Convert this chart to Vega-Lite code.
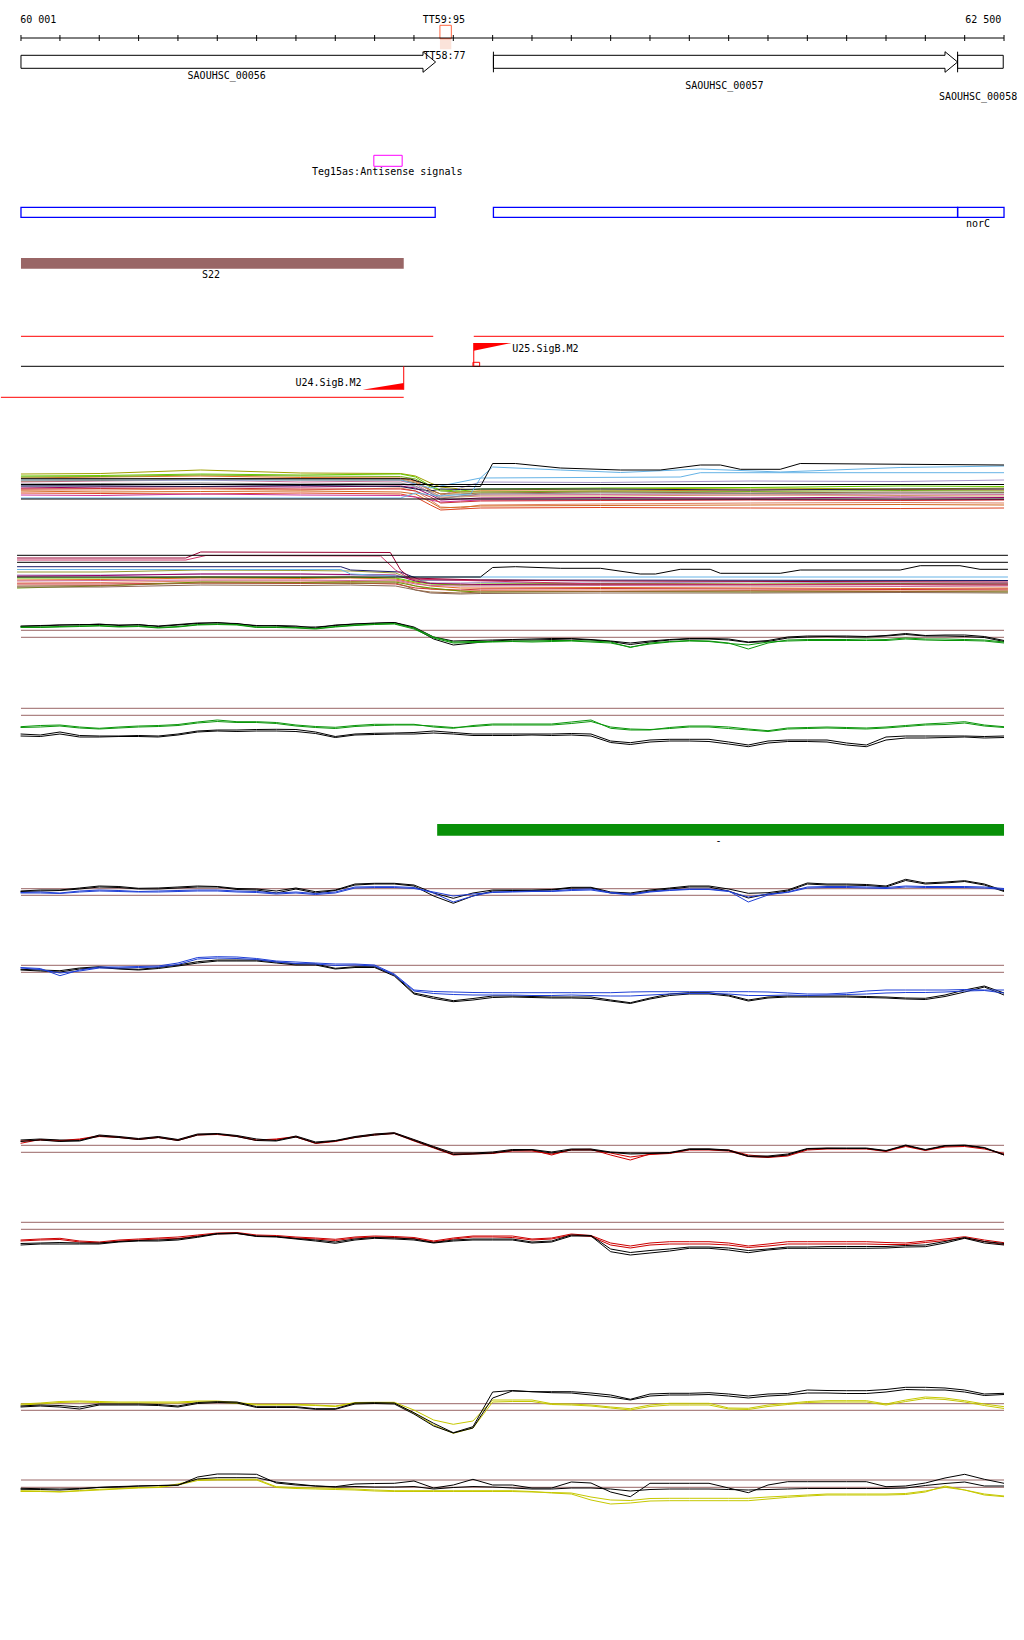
{
"$schema": "https://vega.github.io/schema/vega-lite/v6.json",
"width": 1024, "height": 1640,
"autosize": {"type": "fit", "contains": "padding"},
"padding": 0,
"background": "white",
"config": {"view": {"stroke": null}},
"datasets": {
"fill_s22": [{"feature": "S22", "pos": 60001, "pos2": 60974, "v": 258, "v2": 268.7}],
"fill_green": [{"feature": "green", "pos": 61059, "pos2": 62500, "v": 824, "v2": 835.7}],
"fill_peach": [{"feature": "TT59:95 shade", "pos": 61066, "pos2": 61095, "v": 38.7, "v2": 49.3}],
"box_orange": [{"feature": "TT59:95", "pos": 61066, "pos2": 61095, "v": 25.3, "v2": 38.7}],
"box_magenta": [{"feature": "Teg15as", "pos": 60898, "pos2": 60970, "v": 155.3, "v2": 166.3}],
"box_blue": [{"feature": "b1", "pos": 60001, "pos2": 61054, "v": 207.3, "v2": 217.3}, {"feature": "b2", "pos": 61202, "pos2": 62382, "v": 207.3, "v2": 217.3}, {"feature": "norC", "pos": 62382, "pos2": 62500, "v": 207.3, "v2": 217.3}],
"box_red": [{"feature": "U25 start", "pos": 61150, "pos2": 61167, "v": 362.3, "v2": 366.3}],
"box_black": [{"feature": "SAOUHSC_00058", "pos": 62382, "pos2": 62498, "v": 55.3, "v2": 68.3}],
"genes": [
{"gene": "SAOUHSC_00056", "i": 1, "pos": 60001, "v": 55.3}, {"gene": "SAOUHSC_00056", "i": 2, "pos": 61023, "v": 55.3}, {"gene": "SAOUHSC_00056", "i": 3, "pos": 61023, "v": 51.7}, {"gene": "SAOUHSC_00056", "i": 4, "pos": 61055, "v": 62}, {"gene": "SAOUHSC_00056", "i": 5, "pos": 61023, "v": 72.3}, {"gene": "SAOUHSC_00056", "i": 6, "pos": 61023, "v": 68.3}, {"gene": "SAOUHSC_00056", "i": 7, "pos": 60001, "v": 68.3}, {"gene": "SAOUHSC_00056", "i": 8, "pos": 60001, "v": 55.3},
{"gene": "SAOUHSC_00057", "i": 1, "pos": 61202, "v": 55.3}, {"gene": "SAOUHSC_00057", "i": 2, "pos": 62350, "v": 55.3}, {"gene": "SAOUHSC_00057", "i": 3, "pos": 62350, "v": 51.7}, {"gene": "SAOUHSC_00057", "i": 4, "pos": 62382, "v": 62}, {"gene": "SAOUHSC_00057", "i": 5, "pos": 62350, "v": 72.3}, {"gene": "SAOUHSC_00057", "i": 6, "pos": 62350, "v": 68.3}, {"gene": "SAOUHSC_00057", "i": 7, "pos": 61202, "v": 68.3}, {"gene": "SAOUHSC_00057", "i": 8, "pos": 61202, "v": 55.3}
],
"hrules_black": [{"track": "ruler", "pos": 60001, "pos2": 62500, "v": 38}, {"track": "SigB", "pos": 60001, "pos2": 62500, "v": 366.3}],
"hrules_red": [{"track": "SigB+", "pos": 60001, "pos2": 61049, "v": 336.3}, {"track": "SigB+", "pos": 61152, "pos2": 62500, "v": 336.3}, {"track": "SigB-", "pos": 59950, "pos2": 60974, "v": 397.3}],
"hrules_brown": [
{"pos": 60001, "pos2": 62500, "v": 630.3}, {"pos": 60001, "pos2": 62500, "v": 637.3},
{"pos": 60001, "pos2": 62500, "v": 708.3}, {"pos": 60001, "pos2": 62500, "v": 715.3},
{"pos": 60001, "pos2": 62500, "v": 888.7}, {"pos": 60001, "pos2": 62500, "v": 895.3},
{"pos": 60001, "pos2": 62500, "v": 965.3}, {"pos": 60001, "pos2": 62500, "v": 972.3},
{"pos": 60001, "pos2": 62500, "v": 1145.3}, {"pos": 60001, "pos2": 62500, "v": 1152.3},
{"pos": 60001, "pos2": 62500, "v": 1222.3}, {"pos": 60001, "pos2": 62500, "v": 1229.3},
{"pos": 60001, "pos2": 62500, "v": 1403.7}, {"pos": 60001, "pos2": 62500, "v": 1410.3},
{"pos": 60001, "pos2": 62500, "v": 1480}, {"pos": 60001, "pos2": 62500, "v": 1487.3}
],
"vrules_black": [
{"pos": 60001, "v": 35, "v2": 41}, {"pos": 60100, "v": 35, "v2": 41}, {"pos": 60200, "v": 35, "v2": 41}, {"pos": 60300, "v": 35, "v2": 41}, {"pos": 60400, "v": 35, "v2": 41}, {"pos": 60500, "v": 35, "v2": 41}, {"pos": 60600, "v": 35, "v2": 41}, {"pos": 60700, "v": 35, "v2": 41}, {"pos": 60800, "v": 35, "v2": 41}, {"pos": 60900, "v": 35, "v2": 41}, {"pos": 61000, "v": 35, "v2": 41}, {"pos": 61100, "v": 35, "v2": 41}, {"pos": 61200, "v": 35, "v2": 41}, {"pos": 61300, "v": 35, "v2": 41}, {"pos": 61400, "v": 35, "v2": 41}, {"pos": 61500, "v": 35, "v2": 41}, {"pos": 61600, "v": 35, "v2": 41}, {"pos": 61700, "v": 35, "v2": 41}, {"pos": 61800, "v": 35, "v2": 41}, {"pos": 61900, "v": 35, "v2": 41}, {"pos": 62000, "v": 35, "v2": 41}, {"pos": 62100, "v": 35, "v2": 41}, {"pos": 62200, "v": 35, "v2": 41}, {"pos": 62300, "v": 35, "v2": 41}, {"pos": 62400, "v": 35, "v2": 41}, {"pos": 62500, "v": 35, "v2": 41},
{"pos": 61202, "v": 51.7, "v2": 72.3}, {"pos": 62382, "v": 51.7, "v2": 72.3}
],
"vrules_red": [{"site": "U24.SigB.M2", "pos": 60974, "v": 366.3, "v2": 389.7}, {"site": "U25.SigB.M2", "pos": 61152, "v": 343, "v2": 366.3}],
"sigb": [
{"site": "U24.SigB.M2", "pos": 60869, "v": 389.7, "v2": 389.7}, {"site": "U24.SigB.M2", "pos": 60974, "v": 383, "v2": 389.7},
{"site": "U25.SigB.M2", "pos": 61152, "v": 343, "v2": 350.7}, {"site": "U25.SigB.M2", "pos": 61248, "v": 343, "v2": 343}
],
"labels_left": [{"label": "60 001", "pos": 59999, "v": 20}, {"label": "TT58:77", "pos": 61024, "v": 56}, {"label": "U25.SigB.M2", "pos": 61250, "v": 349.3}],
"labels_center": [{"label": "TT59:95", "pos": 61076, "v": 20}, {"label": "SAOUHSC_00056", "pos": 60524, "v": 76}, {"label": "SAOUHSC_00057", "pos": 61789, "v": 86}, {"label": "SAOUHSC_00058", "pos": 62434, "v": 97.3}, {"label": "Teg15as:Antisense signals", "pos": 60932, "v": 172.3}, {"label": "norC", "pos": 62434, "v": 224.3}, {"label": "S22", "pos": 60484, "v": 275}, {"label": "-", "pos": 61774, "v": 841}],
"labels_right": [{"label": "62 500", "pos": 62493, "v": 20}, {"label": "U24.SigB.M2", "pos": 60867, "v": 383.3}],
"grid": [{"k":1,"pos":60000},{"k":2,"pos":60050},{"k":3,"pos":60100},{"k":4,"pos":60150},{"k":5,"pos":60200},{"k":6,"pos":60250},{"k":7,"pos":60300},{"k":8,"pos":60350},{"k":9,"pos":60400},{"k":10,"pos":60450},{"k":11,"pos":60500},{"k":12,"pos":60550},{"k":13,"pos":60600},{"k":14,"pos":60650},{"k":15,"pos":60700},{"k":16,"pos":60750},{"k":17,"pos":60800},{"k":18,"pos":60850},{"k":19,"pos":60900},{"k":20,"pos":60950},{"k":21,"pos":61000},{"k":22,"pos":61050},{"k":23,"pos":61100},{"k":24,"pos":61150},{"k":25,"pos":61200},{"k":26,"pos":61250},{"k":27,"pos":61300},{"k":28,"pos":61350},{"k":29,"pos":61400},{"k":30,"pos":61450},{"k":31,"pos":61500},{"k":32,"pos":61550},{"k":33,"pos":61600},{"k":34,"pos":61650},{"k":35,"pos":61700},{"k":36,"pos":61750},{"k":37,"pos":61800},{"k":38,"pos":61850},{"k":39,"pos":61900},{"k":40,"pos":61950},{"k":41,"pos":62000},{"k":42,"pos":62050},{"k":43,"pos":62100},{"k":44,"pos":62150},{"k":45,"pos":62200},{"k":46,"pos":62250},{"k":47,"pos":62300},{"k":48,"pos":62350},{"k":49,"pos":62400},{"k":50,"pos":62450},{"k":51,"pos":62500}],
"signals": [
{"sid":"C1","grp":"ctrl","v":[626,625.5,625,624.5,624.5,625,625,626,624.5,623,623,623.5,626,625.5,626,628,625,624,623.5,622.5,627,637,641,640.5,640,639.5,639,638.5,638.5,639.5,641,643,641,639.5,638.5,638.5,639,642,640.5,637,636,636,636,636.5,635.5,633.5,635.5,635,635,636.5,640.5]},
{"sid":"C2","grp":"ctrl","v":[626.5,626,625,625,624,625.5,624.5,626.5,625,623.5,622.5,624,625.5,626,627,627,625.5,624,623,622.5,628,639,645,643,641,640,640,639.5,639,640,641.5,644.5,642,640,639,639,640,642.5,641.5,638,637,636.5,637,637,636,634.5,636,636,636.5,637.5,641.5]},
{"sid":"C3","grp":"trtCD","v":[627,627,626.5,626,625.5,626.5,626,627.5,626.5,624.5,624,624.5,627,627,627.5,628.5,626.5,625,624,623.5,628,637,642,641.5,641.5,641,641,640.5,640.5,641,642,647.5,643,641.5,640.5,641,643,649,643,640,639.5,639.5,639.5,639,639.5,638,639,639,639.5,640,642]},
{"sid":"C4","grp":"trtCD","v":[627.5,627.5,627,626.5,626,627,626.5,628,627,625,624.5,625,627.5,627.5,628,629,627,625.5,624.5,624,629,638,643,642.5,642,641.5,642,641.5,641,642,643,647,644,642,641,641.5,643.5,645,642,641,640.5,640.5,640.5,640.5,640.5,639,640,640.5,640.5,641,643]},
{"sid":"D1","grp":"ctrl","v":[734,735,732,735.5,736,736,735.5,736,734,731,730,730,729.5,729.3,729.5,732,736.5,734,733.3,733,732.5,731,732.5,734,734,734,734,734,733.5,734,741,742.7,740,739.3,739.3,739.3,742,745,741,740,740,740,743,745,737,736,736,736,736,736.5,736]},
{"sid":"D2","grp":"ctrl","v":[736,736.5,734,737,737,736.5,736.5,737,735,732,731,731.5,731,731,731.5,733.5,737.5,735,734.5,734,734,733,734,735.5,735.5,735.5,735,735.5,735,736,742.5,744.5,742,741,741,741.5,744,746.7,743,741.5,741.5,742,745,746.7,740,738,738,737.5,737,738,737.5]},
{"sid":"D3","grp":"trtCD","v":[726.7,725.5,725,727,728.3,727,726,725.5,724.5,722,720,721.7,721.7,722.5,725,726.5,727.3,725.5,724.3,724.3,724.3,727,728.3,725.5,724,724,724,724,722,720,728.3,730,730,727.5,726,726,727,729,730.7,728,727.5,727,727.5,728,727,725.5,724,723,721.7,725,726.7]},
{"sid":"D4","grp":"trtCD","v":[727.5,727,726,728,729,728,727,726.5,725.5,723,721.5,722.5,722.5,723.5,726,727.5,728.5,726.5,725.5,725,725,726,727.5,726.5,725,725,725,725,723.5,721.5,727,729,729.5,728.5,727,727,728.5,730,731.5,729,728.5,728,728.5,729,728,726.5,725,724.5,723,726,727.5]},
{"sid":"E1","grp":"ctrl","v":[891,890,890,888,886,886.5,888.3,888,887,886,886.5,888.5,889,891,888,891.7,890,884,883.3,883.3,885,893,898.3,893,890,890,890,889.5,887.3,887.3,892,893,890,888,886,886,889,893.3,892.7,890,883,884,884,884.5,886,879.3,883,882,880.7,884,890.7]},
{"sid":"E2","grp":"ctrl","v":[891.5,891,890.5,889,887,887.5,889,889,888,887,887,889.5,890,893,889,893,890.5,885,884,884,886,896,903.3,896,891,890.5,890.5,890,888,888,893,894,891,889,887,887,891,898,894,891,884,885,885,885.5,887,880.5,884,883,881.5,885,891.5]},
{"sid":"E3","grp":"trtEF","v":[892.5,892,893,891,890,890.5,891.5,891,890.5,890,890,891,891.5,893,892,893.5,892,887,886.7,886.7,887.5,893,902,896,892,891.5,891,891,889.5,889,892.5,894,891.5,890,889,889,891,902,895,892,887,886.5,886.5,887,887.5,886,886.5,886.5,886.5,887,888.5]},
{"sid":"E4","grp":"trtEF","v":[893,893,893.5,892,891,891.5,892,892,891.5,891,891,892,892.5,894,893,894.5,893,888,887.5,887.5,888.5,892,896,894,892.5,892,891.5,891.5,890.5,890,893,895,892,890.5,889.5,889.5,891.5,897,894,892.5,888,887.5,887.5,888,888.5,887,887.5,887.5,887.5,888,889.5]},
{"sid":"F1","grp":"ctrl","v":[969.3,970,970.7,968,966.7,968.5,969.3,967.5,965,961.7,960,960,960,962,964,964,968.3,966.7,966.7,975,993,997,1000.7,998.5,996,996,996.5,997,997,997,1000,1002.7,998,994,992.7,992.7,995,1000,997,996,996,996,996,996.5,997,998,998.3,995,990,986,993]},
{"sid":"F2","grp":"ctrl","v":[970,971,972,969,967.5,969,970,968.5,966,963,961,961,961,963,965,965,969,967.5,967.5,976,994,998.5,1001.7,1000,997.5,997,997.5,998,998,998.5,1001,1003.5,999,995.5,994,994,996,1001,998,997,997,997,997,997.5,998,999,999.5,996.5,992,987,995]},
{"sid":"F3","grp":"trtEF","v":[967.5,968.5,975.7,970,967,967,966.5,966,963,957.5,956.7,957,958.5,961,962,963,964,964,965,974,990,991.5,992,992.5,992.7,992.7,992.7,992.7,992.7,992.7,992.7,992,991.7,991.7,991.7,991.7,991.7,991.7,992,993,994,994,993,991,990,990,990,990,989.5,990,990]},
{"sid":"F4","grp":"trtEF","v":[968,969.5,973,971,968,968,967.5,967,964.5,959,958,958.5,959.5,962,963.5,964,965.5,965,966,975,991,993.5,994.5,995,995,995,995.5,995.5,995,995.5,996,996,995,994,993.5,993.5,994,995.5,995.5,995,995.5,995,994.5,994,993,992.5,992.5,992,991,990.5,993]},
{"sid":"G1","grp":"trtGH","v":[1143.3,1139.5,1140.5,1139,1135.7,1137,1139,1137,1140,1134.5,1134,1136,1140,1139,1136.5,1143,1141,1137,1134.3,1133,1140,1147,1154,1153.5,1153,1150,1150,1155,1149.5,1149.3,1155,1160,1154,1153,1149.3,1149.3,1150,1155,1156.7,1155,1149,1148.3,1148.5,1148.5,1151,1145.7,1150,1146,1145.5,1148,1155]},
{"sid":"G2","grp":"trtGH","v":[1141,1140,1141,1139.5,1136.5,1137.5,1139.5,1137.5,1140.5,1135,1134.5,1136.5,1140.5,1139.5,1137,1143.5,1141.5,1137.5,1135,1133.5,1141,1148,1155,1154,1153.5,1151,1151,1154,1150,1150,1153,1157,1154.5,1153.5,1150,1150,1151,1156.5,1157.5,1156,1150,1149,1149,1149,1151.5,1146.5,1150.5,1147,1146.5,1149,1153.5]},
{"sid":"G3","grp":"ctrl","v":[1140,1139,1140,1140.5,1135,1136.5,1138.5,1136.5,1139.5,1134,1133.5,1135.5,1139,1140.5,1136,1142,1140.5,1136.5,1134,1132.7,1139.5,1146.5,1153,1153,1152,1149.5,1149.5,1152,1149,1149,1152,1153,1153,1152.5,1148.8,1148.8,1150,1156,1156,1154,1148.5,1148,1148,1148,1150.5,1145,1149.5,1145.5,1145,1147.5,1154.5]},
{"sid":"G4","grp":"ctrl","v":[1141.5,1140,1141.5,1141,1136,1137.5,1139.5,1137.5,1140.5,1135,1134,1136.5,1140.5,1141,1137,1143,1141,1137.5,1135,1133.5,1140.5,1147.5,1154.5,1154,1153,1150.5,1150,1153,1150,1150,1152.5,1154,1153.5,1153,1149.5,1149.5,1150.5,1156.5,1157,1155,1149,1148.5,1148.5,1148.5,1151,1145.5,1150,1146,1145.5,1148,1155]},
{"sid":"H1","grp":"trtGH","v":[1240,1239,1238.3,1241,1242,1240,1239,1238,1237,1235,1233,1232.5,1235,1235.5,1237,1238,1239.3,1237,1236,1236.5,1237.5,1241,1238,1236,1236,1236,1239,1238,1234,1235.5,1243,1246,1243,1241.7,1241.7,1241.7,1243,1246,1244,1241.7,1241.7,1241.7,1241.7,1241.7,1242.5,1243,1241,1239,1236.7,1240,1242.7]},
{"sid":"H2","grp":"trtGH","v":[1241,1240,1239.5,1242,1243,1241,1240,1239,1238.5,1236,1234,1233.5,1236,1236.5,1238,1239,1240.5,1238,1237,1237.5,1238.5,1242,1239,1237,1237,1237.5,1240,1239,1235,1236.5,1245,1248,1245,1244,1244,1244,1245,1247.5,1246,1244,1244,1244,1244,1244,1244.5,1244.5,1242.5,1240.5,1238,1241.5,1244.5]},
{"sid":"H3","grp":"ctrl","v":[1245,1244,1244,1244,1244,1242,1241,1241,1240,1237.3,1234,1233.5,1236.5,1237,1239,1241,1243.3,1240,1238.3,1239,1240,1243,1241,1240,1240,1240,1243,1242,1236,1236,1251.7,1255,1253,1251,1248.3,1248.3,1250,1252.7,1250,1248.3,1248.3,1248.3,1248.3,1248.3,1248,1247,1246.7,1243,1238.3,1243,1245]},
{"sid":"H4","grp":"ctrl","v":[1243.5,1243,1242.5,1243,1243,1241.5,1240.5,1240,1239,1236.5,1233.5,1233,1236,1236.5,1238.5,1240,1242,1239,1237.5,1238,1239,1242.5,1240,1239,1239,1239,1242,1241,1235,1235.5,1249,1252.5,1250.5,1249,1247,1247,1248,1250.5,1249,1247,1247,1246.5,1246.5,1246.5,1246.5,1245.5,1245,1241.5,1237.5,1241.5,1243.5]},
{"sid":"I3","grp":"trtIJ","v":[1404,1403,1401.5,1401,1401.5,1402,1402,1402,1402,1401,1401,1402.5,1404.3,1404.3,1404.3,1405,1406,1402.5,1402.3,1402.3,1410,1420,1424.3,1421,1400,1400,1400,1403.7,1404,1405,1407,1408.7,1405,1403.3,1403.3,1403.3,1408,1408.3,1405,1403.3,1401.5,1400.7,1400.7,1400.7,1404,1400,1397,1398,1400.7,1404,1406.7]},
{"sid":"I4","grp":"trtIJ","v":[1405,1404,1402.5,1402,1402.5,1403,1403,1403,1403,1402,1402,1403.5,1405,1405,1405,1405.5,1406.5,1403.5,1403,1403,1413,1425,1433.3,1428,1402,1401.5,1401.5,1404.5,1405,1406,1408,1410,1406.5,1405,1405,1405,1409,1409.5,1406.5,1404.5,1402.5,1402,1402,1402,1405,1401.5,1398.5,1399.5,1402,1405.5,1408.5]},
{"sid":"I1","grp":"ctrl","v":[1406,1405,1405.5,1407,1404,1404,1404,1404.5,1406,1402.5,1401.7,1402,1406.7,1406.7,1406.7,1408.7,1408.7,1403,1402.7,1403,1412.7,1423.3,1432.7,1426.7,1392,1390.5,1391.7,1391.7,1391.7,1393,1395,1399.3,1394,1393.3,1393.3,1392.7,1394,1396,1394,1393.5,1390,1390.5,1390.7,1390.7,1389.5,1387.3,1387.3,1388,1390,1394,1393.3]},
{"sid":"I2","grp":"ctrl","v":[1407,1406,1407,1409,1405,1405,1405,1405.5,1407,1403.5,1402.5,1403,1407.5,1407.5,1407.5,1409.3,1409.3,1404,1403.5,1404,1414,1426,1433,1428,1398,1391,1391.7,1392.7,1393,1395,1397,1400,1396,1395,1395,1394.5,1396,1398,1396,1395,1393,1393,1393.5,1393.5,1392,1389.5,1390,1390,1392,1395.5,1394.5]},
{"sid":"J3","grp":"trtIJ","v":[1490.7,1491,1491.7,1490.5,1489.3,1488.5,1487.5,1487,1484,1479.3,1479.3,1479.3,1479.3,1486.7,1487.5,1488,1488.3,1489,1490,1490.7,1490.7,1490.7,1490.7,1490.7,1490.7,1490.7,1491.5,1493,1494,1500,1504,1503,1501,1500.7,1500.7,1500.7,1500.7,1500.7,1499,1497.3,1496,1495,1495,1495,1495,1494.5,1492,1486,1490,1495,1496.7]},
{"sid":"J4","grp":"trtIJ","v":[1491.5,1491.5,1492,1491,1490,1489,1488,1487.5,1485,1480.5,1480,1480,1480,1487.5,1488.5,1489,1489.5,1490,1491,1491.5,1491.5,1491.5,1491.5,1491.5,1491.5,1491.5,1492,1492.5,1493,1497,1500,1500.5,1498.5,1498.3,1498.3,1498.3,1498.3,1498.3,1497,1496,1495,1494,1494,1494,1494,1493.5,1491,1487.3,1490,1494,1496]},
{"sid":"J1","grp":"ctrl","v":[1489.3,1489.5,1490,1489,1487.3,1486.5,1486,1485.5,1485.3,1477,1474,1474,1474.3,1483,1485,1486,1486.7,1484,1483.5,1483.3,1481,1488,1485,1479.3,1485,1485,1488,1488,1482,1483,1492,1496.7,1483.3,1483.3,1483.3,1483.3,1488,1492.7,1485,1481.7,1481.7,1481.7,1481.7,1481.7,1486.7,1486,1483,1478,1474.3,1479.3,1483.3]},
{"sid":"J2","grp":"ctrl","v":[1488.3,1488.7,1489,1488.5,1487.5,1487,1486,1485.5,1485,1479,1477.7,1477.7,1477.7,1482,1484,1486,1487,1486.5,1487,1487,1486.5,1489,1487.5,1486.5,1487,1488,1489,1489,1488,1488,1489,1491,1489.5,1489,1489,1489,1489.5,1490,1489.5,1489,1488.5,1488.5,1488.5,1488.5,1488.5,1488,1485.5,1483.5,1482,1486,1486]}
],
"spaghetti": [
{"sid":"A06","pos":[60001,60204,60458,60712,60966,61004,61042,61068,61118,61169,61474,61855,62236,62500],"v":[474,473.5,470,473,473.5,476,483,487,489,490,489,488,489,488]},
{"sid":"A07","pos":[60001,60204,60458,60712,60966,61004,61042,61068,61118,61169,61474,61855,62236,62500],"v":[476,475.5,474,475,474,477,486,490,491,489,488,487.5,486,486.5]},
{"sid":"A08","pos":[60001,60204,60458,60712,60966,61004,61042,61068,61118,61169,61474,61855,62236,62500],"v":[478,477,476,477.5,478,481,490,494,492,491,491,490,489.5,490]},
{"sid":"A09","pos":[60001,60204,60458,60712,60966,61004,61042,61068,61118,61169,61474,61855,62236,62500],"v":[482,481,480,482,481,484,493,498,496,495,494.5,495,494,494.5]},
{"sid":"A10","pos":[60001,60204,60458,60712,60966,61004,61042,61068,61118,61169,61474,61855,62236,62500],"v":[488,487,486.5,487,486,488,495,500,499,498,497.5,498,497,497.5]},
{"sid":"A11","pos":[60001,60204,60458,60712,60966,61004,61042,61068,61118,61169,61474,61855,62236,62500],"v":[490,490,489,490,488,491,500,507,508,505,504,503,502.5,503]},
{"sid":"A12","pos":[60001,60204,60458,60712,60966,61004,61042,61068,61118,61169,61474,61855,62236,62500],"v":[486,485,484,485.5,484,487,492,496,488,482,482.5,481,481.5,480]},
{"sid":"A13","pos":[60001,60204,60458,60712,60966,61004,61042,61068,61118,61169,61474,61855,62236,62500],"v":[481,480.5,479,480,480,483,490,494,494,493,492,493,492,492.5]},
{"sid":"A14","pos":[60001,60204,60458,60712,60966,61004,61042,61068,61118,61169,61474,61855,62236,62500],"v":[493,493.5,494,493,494,497,505,510,509,508,507.5,508,508.5,508]},
{"sid":"A15","pos":[60001,60204,60458,60712,60966,61004,61042,61068,61118,61169,61474,61855,62236,62500],"v":[486,486,486.5,485.5,486.5,489,491,489,489.5,489,489,490,489,489]},
{"sid":"A16","pos":[60001,60204,60458,60712,60966,61004,61042,61068,61118,61169,61474,61855,62236,62500],"v":[495,495.5,494,495,495.5,497,500,502,501,500,500,499.5,500,499.5]},
{"sid":"A17","pos":[60001,60204,60458,60712,60966,61004,61042,61068,61118,61169,61474,61855,62236,62500],"v":[480,479.5,478.5,479,479,482,491,497,497,496,496,495,495.5,496]},
{"sid":"A18","pos":[60001,60204,60458,60712,60966,61004,61042,61068,61118,61169,61474,61855,62236,62500],"v":[491,492,491.5,491,492,494,502,508,507,506,505.5,505,504.5,505]},
{"sid":"A19","pos":[60001,60204,60458,60712,60966,61004,61042,61068,61118,61169,61474,61855,62236,62500],"v":[477,476.5,475,476,476.5,479,487,491,492,492,491,491.5,490.5,491]},
{"sid":"A20","pos":[60001,60204,60458,60712,60966,61004,61042,61068,61118,61169,61474,61855,62236,62500],"v":[484,483.5,483,484,483,486,493,499,496,494,493,493.5,493,493]},
{"sid":"A21","pos":[60001,60204,60458,60712,60966,61004,61042,61068,61118,61169,61474,61855,62236,62500],"v":[489,488.5,488,489,489,491,497,503,502,501,500.5,500,500.5,500]},
{"sid":"A04","pos":[60001,60966,61004,61068,61144,61169,61200,61372,61525,61728,61931,62236,62500],"v":[498,498,493,496,494,478,467,470,472.5,469,472,467.5,466]},
{"sid":"A05","pos":[60001,60966,61042,61169,61677,61728,62500],"v":[480,480,488,478,477,472.7,472.7]},
{"sid":"A01","pos":[60001,62500],"v":[499,499]},
{"sid":"A03","pos":[60001,62500],"v":[484.5,484.5]},
{"sid":"A02","pos":[60001,60966,60991,61050,61169,61200,61258,61372,61525,61626,61728,61779,61830,61931,61982,62500],"v":[478.7,478.7,479,486.5,486.5,463.5,463.5,468,470,470,465,465,469.3,469.3,463.5,465]},
{"sid":"B08","pos":[59991,60204,60458,60712,60839,60953,60979,61004,61042,61118,61169,61474,61855,62236,62510],"v":[572,572,570,570.5,571,573,577,580,583,585,585,584.5,585,584.5,585]},
{"sid":"B09","pos":[59991,60204,60458,60712,60839,60953,60979,61004,61042,61118,61169,61474,61855,62236,62510],"v":[575,575,574,574,575,576,578,581,583,583,582.5,583,582,583,583]},
{"sid":"B10","pos":[59991,60204,60458,60712,60839,60953,60979,61004,61042,61118,61169,61474,61855,62236,62510],"v":[580,579.5,578,578.5,578,579,581,583,586,588,588,587.5,588,588.5,588]},
{"sid":"B11","pos":[59991,60204,60458,60712,60839,60953,60979,61004,61042,61118,61169,61474,61855,62236,62510],"v":[578,578,577,577.5,577,578,580,582,584,585,584,583.5,584,583.5,584]},
{"sid":"B12","pos":[59991,60204,60458,60712,60839,60953,60979,61004,61042,61118,61169,61474,61855,62236,62510],"v":[583,582.5,581,581,581.5,581,583,586,589,591,590.5,590,590.5,590,590]},
{"sid":"B13","pos":[59991,60204,60458,60712,60839,60953,60979,61004,61042,61118,61169,61474,61855,62236,62510],"v":[584,584,583,583.5,583,584,586,588,589,590,589,588.5,589,589.5,589]},
{"sid":"B14","pos":[59991,60204,60458,60712,60839,60953,60979,61004,61042,61118,61169,61474,61855,62236,62510],"v":[588,586,582,582.5,582,582,584,586,588,591,592,591.5,592,591.5,592]},
{"sid":"B15","pos":[59991,60204,60458,60712,60839,60953,60979,61004,61042,61118,61169,61474,61855,62236,62510],"v":[586,585.5,583,583,583.5,583,586,590,592,593,592,591.5,591,591.5,591]},
{"sid":"B16","pos":[59991,60204,60458,60712,60839,60953,60979,61004,61042,61118,61169,61474,61855,62236,62510],"v":[581,580.5,580,580,580.5,580,582,584,585.5,586,586,585.5,586,586.5,586]},
{"sid":"B17","pos":[59991,60204,60458,60712,60839,60953,60979,61004,61042,61118,61169,61474,61855,62236,62510],"v":[587,587,585,585.5,585,586,588,590,593,594,593.5,593,593,592.5,593]},
{"sid":"B18","pos":[59991,60204,60458,60712,60839,60953,60979,61004,61042,61118,61169,61474,61855,62236,62510],"v":[576,575.5,574,574,574.5,575,578,581,583.5,584,584.5,584,584.5,584,584]},
{"sid":"B07","pos":[59991,60814,60839,61017,62510],"v":[569.5,569.5,574,577,577]},
{"sid":"B06","pos":[59991,60814,60839,60966,61017,62510],"v":[566.7,566.7,570,572,580,580.5]},
{"sid":"B05","pos":[59991,60420,60471,60915,60953,60991,61474,62510],"v":[560,560,555.5,556,570,579,584,585]},
{"sid":"B04","pos":[59991,60420,60458,60940,60966,60991,61169,61474,62510],"v":[558,558,552,552.5,570,578,580,581,582]},
{"sid":"B01","pos":[59991,62510],"v":[555.3,555.3]},
{"sid":"B02","pos":[59991,62510],"v":[562.3,562.3]},
{"sid":"B03","pos":[59991,60953,61169,61200,61258,61372,61474,61575,61614,61677,61753,61779,61931,61982,62236,62287,62388,62439,62510],"v":[577,577,577,567.5,566.7,568.3,568.3,574,574,569.3,569.3,573.3,573.3,570,570,565.7,565.7,569.3,569.3]}
]
},
"encoding": {
"x": {"field": "pos", "type": "quantitative", "scale": {"domain": [59950.2, 62550.8], "nice": false, "zero": false}, "axis": null},
"y": {"field": "v", "type": "quantitative", "scale": {"domain": [0, 1640], "reverse": true, "nice": false, "zero": false}, "axis": null}
},
"layer": [
{"data": {"name": "fill_s22"}, "mark": {"type": "rect", "color": "#996666"}, "encoding": {"x2": {"field": "pos2"}, "y2": {"field": "v2"}}},
{"data": {"name": "fill_green"}, "mark": {"type": "rect", "color": "#089008"}, "encoding": {"x2": {"field": "pos2"}, "y2": {"field": "v2"}}},
{"data": {"name": "fill_peach"}, "mark": {"type": "rect", "color": "#fbe3da"}, "encoding": {"x2": {"field": "pos2"}, "y2": {"field": "v2"}}},
{"data": {"name": "box_orange"}, "mark": {"type": "rect", "filled": false, "color": "#ff6640", "strokeWidth": 1}, "encoding": {"x2": {"field": "pos2"}, "y2": {"field": "v2"}}},
{"data": {"name": "box_magenta"}, "mark": {"type": "rect", "filled": false, "color": "#ff00ff", "strokeWidth": 1}, "encoding": {"x2": {"field": "pos2"}, "y2": {"field": "v2"}}},
{"data": {"name": "box_blue"}, "mark": {"type": "rect", "filled": false, "color": "#0000ff", "strokeWidth": 1.3}, "encoding": {"x2": {"field": "pos2"}, "y2": {"field": "v2"}}},
{"data": {"name": "box_red"}, "mark": {"type": "rect", "filled": false, "color": "#ff0000", "strokeWidth": 1}, "encoding": {"x2": {"field": "pos2"}, "y2": {"field": "v2"}}},
{"data": {"name": "box_black"}, "mark": {"type": "rect", "filled": false, "color": "#000000", "strokeWidth": 1}, "encoding": {"x2": {"field": "pos2"}, "y2": {"field": "v2"}}},
{"data": {"name": "genes"}, "mark": {"type": "line", "color": "#000000", "strokeWidth": 1}, "encoding": {"detail": {"field": "gene"}, "order": {"field": "i", "type": "quantitative"}}},
{"data": {"name": "hrules_black"}, "mark": {"type": "rule", "color": "#000000", "strokeWidth": 1}, "encoding": {"x2": {"field": "pos2"}}},
{"data": {"name": "hrules_red"}, "mark": {"type": "rule", "color": "#ff0000", "strokeWidth": 1}, "encoding": {"x2": {"field": "pos2"}}},
{"data": {"name": "hrules_brown"}, "mark": {"type": "rule", "color": "#996666", "strokeWidth": 1}, "encoding": {"x2": {"field": "pos2"}}},
{"data": {"name": "vrules_black"}, "mark": {"type": "rule", "color": "#000000", "strokeWidth": 1}, "encoding": {"y2": {"field": "v2"}}},
{"data": {"name": "vrules_red"}, "mark": {"type": "rule", "color": "#ff0000", "strokeWidth": 1}, "encoding": {"y2": {"field": "v2"}}},
{"data": {"name": "sigb"}, "mark": {"type": "area", "color": "#ff0000"}, "encoding": {"y2": {"field": "v2"}, "detail": {"field": "site"}}},
{"data": {"name": "spaghetti"}, "transform": [{"flatten": ["pos", "v"]}],
 "mark": {"type": "line", "strokeWidth": 1},
 "encoding": {"detail": {"field": "sid"}, "color": {"field": "sid", "type": "nominal", "legend": null,
  "scale": {"domain": ["A01","A02","A03","A04","A05","A06","A07","A08","A09","A10","A11","A12","A13","A14","A15","A16","A17","A18","A19","A20","A21","B01","B02","B03","B04","B05","B06","B07","B08","B09","B10","B11","B12","B13","B14","B15","B16","B17","B18","C1","C2","C3","C4","D1","D2","D3","D4","E1","E2","E3","E4","F1","F2","F3","F4","G1","G2","G3","G4","H1","H2","H3","H4","I1","I2","I3","I4","J1","J2","J3","J4"],
  "range": ["#000000","#000000","#000000","#66b3e6","#66b3e6","#a0a000","#66cc00","#e8702a","#d070a0","#990066","#e08060","#aa99cc","#996633","#dd4422","#1a1a4d","#cc3399","#cc9966","#d2691e","#77aa22","#888888","#cc3333","#000000","#000000","#000000","#990033","#cc3366","#1a1a66","#66b3e6","#999933","#aa99cc","#e07020","#66cc00","#e08060","#cc3333","#669900","#996633","#cc6699","#886655","#990066","#000000","#000000","#0a960a","#0a960a","#000000","#000000","#0a960a","#0a960a","#000000","#000000","#1f3fd6","#1f3fd6","#000000","#000000","#1f3fd6","#1f3fd6","#cc0000","#cc0000","#000000","#000000","#cc0000","#cc0000","#000000","#000000","#000000","#000000","#c6c800","#c6c800","#000000","#000000","#c6c800","#c6c800"]}}}},
{"data": {"name": "signals"}, "transform": [{"flatten": ["v"]}, {"window": [{"op": "row_number", "as": "k"}], "groupby": ["sid"]}, {"lookup": "k", "from": {"data": {"name": "grid"}, "key": "k", "fields": ["pos"]}}],
 "mark": {"type": "line", "strokeWidth": 1},
 "encoding": {"detail": {"field": "sid"}, "order": {"field": "k", "type": "quantitative"}, "color": {"field": "sid", "type": "nominal", "legend": null,
  "scale": {"domain": ["A01","A02","A03","A04","A05","A06","A07","A08","A09","A10","A11","A12","A13","A14","A15","A16","A17","A18","A19","A20","A21","B01","B02","B03","B04","B05","B06","B07","B08","B09","B10","B11","B12","B13","B14","B15","B16","B17","B18","C1","C2","C3","C4","D1","D2","D3","D4","E1","E2","E3","E4","F1","F2","F3","F4","G1","G2","G3","G4","H1","H2","H3","H4","I1","I2","I3","I4","J1","J2","J3","J4"],
  "range": ["#000000","#000000","#000000","#66b3e6","#66b3e6","#a0a000","#66cc00","#e8702a","#d070a0","#990066","#e08060","#aa99cc","#996633","#dd4422","#1a1a4d","#cc3399","#cc9966","#d2691e","#77aa22","#888888","#cc3333","#000000","#000000","#000000","#990033","#cc3366","#1a1a66","#66b3e6","#999933","#aa99cc","#e07020","#66cc00","#e08060","#cc3333","#669900","#996633","#cc6699","#886655","#990066","#000000","#000000","#0a960a","#0a960a","#000000","#000000","#0a960a","#0a960a","#000000","#000000","#1f3fd6","#1f3fd6","#000000","#000000","#1f3fd6","#1f3fd6","#cc0000","#cc0000","#000000","#000000","#cc0000","#cc0000","#000000","#000000","#000000","#000000","#c6c800","#c6c800","#000000","#000000","#c6c800","#c6c800"]}}}},
{"data": {"name": "labels_left"}, "mark": {"type": "text", "align": "left", "baseline": "middle", "font": "DejaVu Sans Mono", "fontSize": 10, "color": "#000000"}, "encoding": {"text": {"field": "label"}}},
{"data": {"name": "labels_center"}, "mark": {"type": "text", "align": "center", "baseline": "middle", "font": "DejaVu Sans Mono", "fontSize": 10, "color": "#000000"}, "encoding": {"text": {"field": "label"}}},
{"data": {"name": "labels_right"}, "mark": {"type": "text", "align": "right", "baseline": "middle", "font": "DejaVu Sans Mono", "fontSize": 10, "color": "#000000"}, "encoding": {"text": {"field": "label"}}}
]
}
